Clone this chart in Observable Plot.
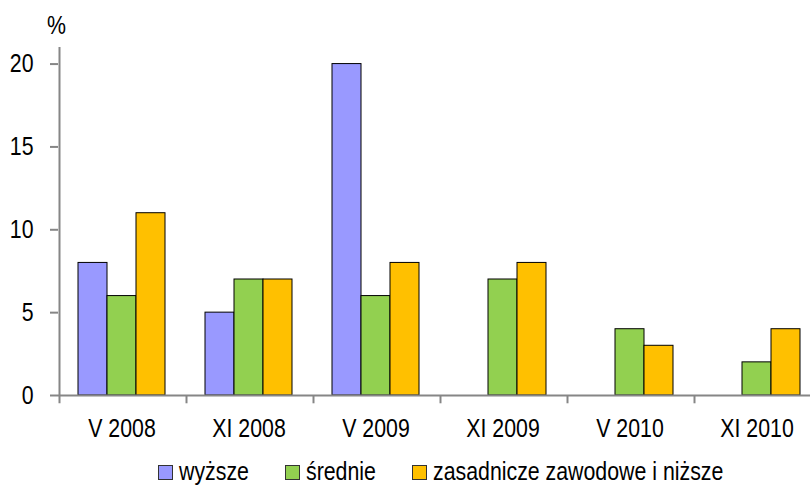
<!DOCTYPE html>
<html>
<head>
<meta charset="utf-8">
<script src="https://cdn.jsdelivr.net/npm/d3@7"></script>
<script src="https://cdn.jsdelivr.net/npm/@observablehq/plot@0.6"></script>
<style>
  html, body { margin: 0; padding: 0; background: #fff; overflow: hidden; }
  #wrap { position: relative; width: 810px; height: 486px; overflow: hidden; background: #fff;
          font-family: 'Liberation Sans', Arial, sans-serif; color: #000; }
  #chart { position: absolute; left: 0; top: 0; width: 820px; }
  #chart svg { max-width: none !important; width: 820px; height: 450px; }
  #unit { position: absolute; left: 47px; top: 12px; font-size: 26px; line-height: 26px;
          transform: scaleX(0.82); transform-origin: 0 0; }
  .leg { position: absolute; top: 458px; height: 26px; font-size: 26px; line-height: 26px;
         white-space: nowrap; display: flex; align-items: flex-start; }
  .sw { flex: none; margin-top: 7px; margin-right: 6px; width: 13px; height: 13px; border: 1px solid #333; }
  .lt { display: inline-block; transform: scaleX(0.82); transform-origin: 0 0; }
</style>
</head>
<body>
<div id="wrap">
  <div id="chart"></div>
  <div id="unit">%</div>
  <div id="legend"></div>
</div>
<script>
const categories = ["V 2008", "XI 2008", "V 2009", "XI 2009", "V 2010", "XI 2010"];
const series = ["wyższe", "średnie", "zasadnicze zawodowe i niższe"];
const wyzsze = [8, 5, 20, null, null, null];
const srednie = [6, 7, 6, 7, 4, 2];
const zasadnicze = [11, 7, 8, 8, 3, 4];
const colors = ["#9999FF", "#92D050", "#FFC000"];
const yTicks = [0, 5, 10, 15, 20];

const seriesValues = [wyzsze, srednie, zasadnicze];
const data = categories.flatMap((c, i) =>
  seriesValues.map((vals, j) => ({category: c, series: series[j], value: vals[i]}))
).filter(d => d.value != null);

const boundaries = categories.map((c, i) => ({category: c, top: i === 0 ? 21 : 0}));
const axisColor = "#868686";

const chart = Plot.plot({
  width: 820,
  height: 450,
  marginLeft: 58,
  marginRight: 0,
  marginTop: 47,
  marginBottom: 55,
  style: {fontFamily: "'Liberation Sans', Arial, sans-serif", fontSize: "26px", color: "#000", background: "#fff"},
  fx: {domain: categories, padding: 0, label: null},
  x: {domain: series, paddingInner: 0, paddingOuter: 0.6167, axis: null},
  y: {domain: [0, 21], axis: null},
  color: {domain: series, range: colors},
  marks: [
    Plot.barY(data, {fx: "category", x: "series", y: "value", fill: "series", stroke: "#000", strokeWidth: 1}),
    Plot.ruleY([0], {stroke: axisColor, strokeWidth: 2}),
    Plot.ruleX(boundaries, {fx: "category", x: () => series[0], dx: -33.5, y1: -0.5, y2: "top", stroke: axisColor, strokeWidth: 2}),
    Plot.axisY({ticks: yTicks, tickSize: 8, tickPadding: 17, label: null, stroke: axisColor, strokeWidth: 2, strokeOpacity: 1, fontSize: 26}),
    Plot.axisFx({anchor: "bottom", tickSize: 0, tickPadding: 23, label: null, fontSize: 26})
  ]
});
// narrow the Arial-metric text horizontally, like Arial Narrow in the original
chart.querySelectorAll("text").forEach(t => {
  const tr = t.getAttribute("transform") || "";
  t.setAttribute("transform", (tr + " scale(0.82,1)").trim());
});
document.getElementById("chart").appendChild(chart);

const lefts = [158, 285, 412];
const legend = document.getElementById("legend");
series.forEach((s, j) => {
  const item = document.createElement("div");
  item.className = "leg";
  item.style.left = lefts[j] + "px";
  const sw = document.createElement("span");
  sw.className = "sw";
  sw.style.background = colors[j];
  const t = document.createElement("span");
  t.className = "lt";
  t.textContent = s;
  item.appendChild(sw);
  item.appendChild(t);
  legend.appendChild(item);
});
</script>
</body>
</html>
